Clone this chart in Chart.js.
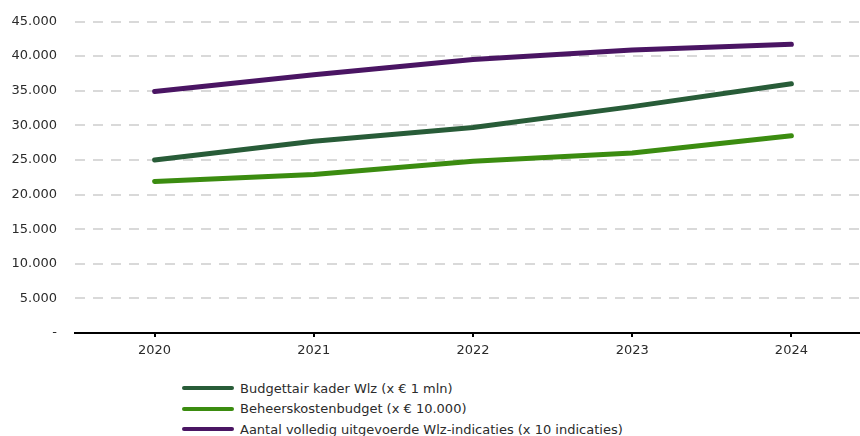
<!DOCTYPE html>
<html>
<head>
<meta charset="utf-8">
<script src="https://cdn.jsdelivr.net/npm/chart.js@4.4.1/dist/chart.umd.min.js"></script>
<style>
  html, body { margin: 0; padding: 0; background: #fff; overflow: hidden; }
  #wrap { position: relative; width: 860px; height: 436px; overflow: hidden; }
  #box { position: absolute; left: 0; top: 0; width: 871px; height: 363px; }
  #legend { position: absolute; left: 182px; top: 378px; font-family: "DejaVu Sans", Verdana, sans-serif; font-size: 13px; color: #2b2b2b; }
  .row { display: flex; align-items: center; height: 20.5px; white-space: nowrap; }
  .sw { width: 52px; height: 4px; border-radius: 2px; margin-right: 6px; }
</style>
</head>
<body>
<div id="wrap">
  <div id="box"><canvas id="c"></canvas></div>
  <div id="legend"></div>
</div>
<script>
const years = ['2020', '2021', '2022', '2023', '2024'];
const budgettairKader = [25000, 27700, 29700, 32700, 36000];
const beheerskosten = [21900, 22900, 24800, 26000, 28500];
const indicaties = [34900, 37300, 39500, 40900, 41700];
const seriesNames = [
  'Budgettair kader Wlz (x € 1 mln)',
  'Beheerskostenbudget (x € 10.000)',
  'Aantal volledig uitgevoerde Wlz-indicaties (x 10 indicaties)'
];
const seriesColors = ['#285c38', '#3b8c10', '#4a1563'];
const yTicks = [0, 5000, 10000, 15000, 20000, 25000, 30000, 35000, 40000, 45000];

function fmt(v) {
  if (v === 0) return '-';
  return String(v).replace(/\B(?=(\d{3})+(?!\d))/g, '.');
}

const seriesData = [budgettairKader, beheerskosten, indicaties];
const datasets = seriesData.map((d, i) => ({
  label: seriesNames[i],
  data: d,
  borderColor: seriesColors[i],
  backgroundColor: seriesColors[i],
  borderWidth: 5,
  borderCapStyle: 'round',
  borderJoinStyle: 'round',
  pointRadius: 0,
  tension: 0,
  fill: false
}));

const font = { family: '"DejaVu Sans", Verdana, sans-serif', size: 13 };

new Chart(document.getElementById('c'), {
  type: 'line',
  data: { labels: years, datasets },
  options: {
    responsive: true,
    maintainAspectRatio: false,
    animation: false,
    layout: { padding: { top: 21.5, right: 0, bottom: 0, left: 0 } },
    plugins: { legend: { display: false }, tooltip: { enabled: false } },
    scales: {
      x: {
        type: 'category',
        offset: true,
        grid: { drawOnChartArea: false, drawTicks: true, tickLength: 4, color: '#000', lineWidth: 2 },
        border: { display: true, color: '#000', width: 2 },
        ticks: { color: '#2b2b2b', font, padding: 6, maxRotation: 0 },
        afterFit: s => { s.height = 30; }
      },
      y: {
        min: 0,
        max: 45000,
        afterBuildTicks: s => { s.ticks = yTicks.map(v => ({ value: v })); },
        grid: { color: '#d9d9d9', lineWidth: 2, drawTicks: true, tickLength: 18, tickColor: 'rgba(0,0,0,0)' },
        border: { display: false, dash: [10, 8] },
        ticks: { color: '#2b2b2b', font, padding: 0, callback: v => fmt(v) },
        afterFit: s => { s.width = 75; }
      }
    }
  }
});

const lg = document.getElementById('legend');
seriesNames.forEach((n, i) => {
  const r = document.createElement('div');
  r.className = 'row';
  const sw = document.createElement('span');
  sw.className = 'sw';
  sw.style.background = seriesColors[i];
  const t = document.createElement('span');
  t.textContent = n;
  r.appendChild(sw); r.appendChild(t);
  lg.appendChild(r);
});
</script>
</body>
</html>
